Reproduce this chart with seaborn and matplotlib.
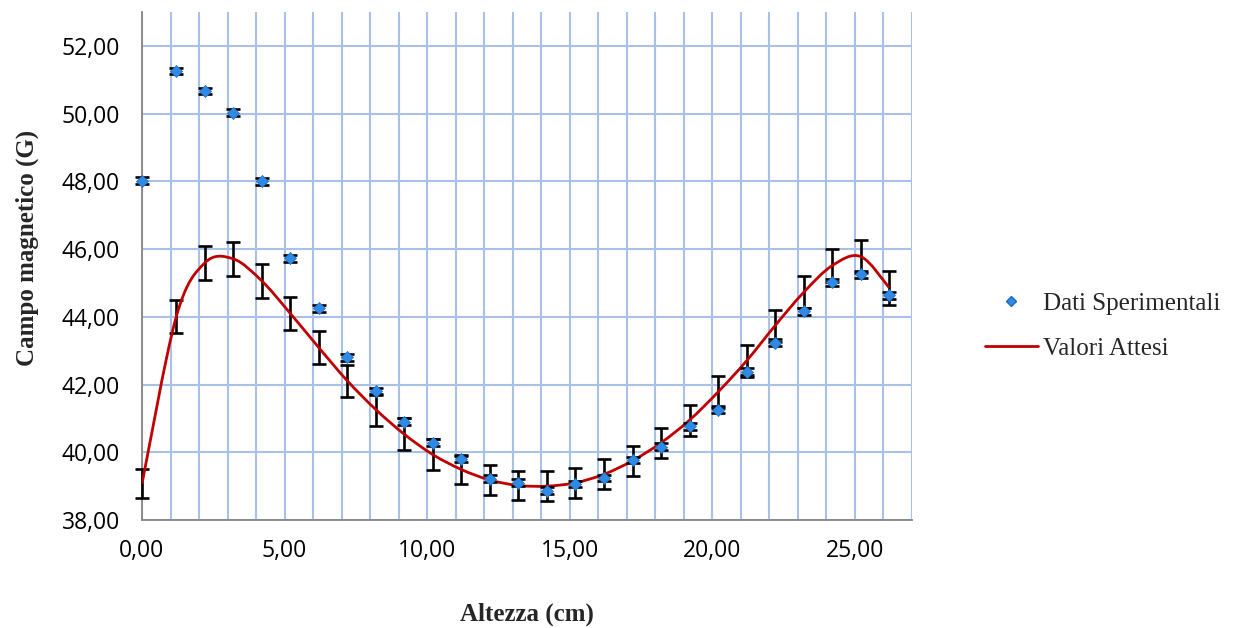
import numpy as np
import matplotlib
matplotlib.use("Agg")
import matplotlib.pyplot as plt
from matplotlib.path import Path
from matplotlib.patches import PathPatch
from matplotlib.lines import Line2D
from matplotlib.ticker import MultipleLocator, FuncFormatter
import pandas as pd
import seaborn as sns

# altezza (cm)
altezza = [0.0, 1.2, 2.2, 3.2, 4.2, 5.2, 6.2, 7.2, 8.2, 9.2, 10.2, 11.2, 12.2, 13.2,
           14.2, 15.2, 16.2, 17.2, 18.2, 19.2, 20.2, 21.2, 22.2, 23.2, 24.2, 25.2, 26.2]

# dati sperimentali (G)
campo_misurato = [48.02, 51.26, 50.67, 50.03, 48.00, 45.73, 44.25, 42.80, 41.80, 40.90,
                  40.28, 39.80, 39.22, 39.10, 38.87, 39.06, 39.24, 39.77, 40.16, 40.77,
                  41.26, 42.38, 43.23, 44.16, 45.02, 45.25, 44.64]
err_misurato = [0.10] * 27

# valori attesi (G)
campo_atteso = [39.07, 44.00, 45.59, 45.71, 45.06, 44.10, 43.09, 42.11, 41.26, 40.53,
                39.93, 39.49, 39.18, 39.02, 39.00, 39.10, 39.35, 39.75, 40.28, 40.95,
                41.78, 42.70, 43.74, 44.72, 45.51, 45.78, 44.86]
err_atteso = [0.43, 0.49, 0.50, 0.50, 0.50, 0.49, 0.49, 0.47, 0.47, 0.47, 0.45, 0.44,
              0.44, 0.44, 0.44, 0.45, 0.44, 0.44, 0.45, 0.46, 0.47, 0.47, 0.47, 0.47,
              0.48, 0.48, 0.50]

BLUE = "#2f8ae5"
RED = "#c00000"
GRID = "#a9c0e8"
AXIS = "#868686"


def smooth_path(x, y):
    # curva "smussata" come nei grafici excel (bezier tipo catmull-rom)
    pts = np.column_stack([x, y])
    n = len(pts)
    verts = [pts[0]]
    codes = [Path.MOVETO]
    for i in range(n - 1):
        p0 = pts[max(i - 1, 0)]
        p1 = pts[i]
        p2 = pts[i + 1]
        p3 = pts[min(i + 2, n - 1)]
        verts += [p1 + (p2 - p0) / 6, p2 - (p3 - p1) / 6, p2]
        codes += [Path.CURVE4] * 3
    return Path(verts, codes)


sns.set_style("white")
plt.rcParams["font.family"] = ["Open Sans", "DejaVu Sans"]

df = pd.DataFrame({"altezza": altezza, "campo": campo_misurato})

fig = plt.figure(figsize=(12.42, 6.28), dpi=100)
ax = fig.add_axes([142 / 1242, 108 / 628, 770 / 1242, 508 / 628])

# barre di errore dei valori attesi
ax.errorbar(altezza, campo_atteso, yerr=err_atteso, fmt="none", ecolor="black",
            elinewidth=1.9, capsize=5, capthick=1.9, zorder=3, clip_on=False)
# curva dei valori attesi
ax.add_patch(PathPatch(smooth_path(altezza, campo_atteso), facecolor="none",
                       edgecolor=RED, lw=2.0, zorder=4))
# dati sperimentali
ax.errorbar(altezza, campo_misurato, yerr=err_misurato, fmt="none", ecolor="black",
            elinewidth=1.5, capsize=5, capthick=1.9, zorder=5, clip_on=False)
sns.scatterplot(data=df, x="altezza", y="campo", marker="D", s=38, color=BLUE,
                edgecolor="#1f6cc0", linewidth=0.5, zorder=6, ax=ax, legend=False,
                clip_on=False)

ax.set_xlim(0, 27)
ax.set_ylim(38, 53)
ax.xaxis.set_major_locator(MultipleLocator(5))
ax.xaxis.set_minor_locator(MultipleLocator(1))
ax.set_yticks(np.arange(38, 53, 2))
fmt = FuncFormatter(lambda v, p: f"{v:.2f}".replace(".", ","))
ax.xaxis.set_major_formatter(fmt)
ax.yaxis.set_major_formatter(fmt)

ax.set_axisbelow(True)
ax.grid(which="major", color=GRID, lw=1.5)
ax.grid(which="minor", axis="x", color=GRID, lw=1.5)

for s in ["top", "right"]:
    ax.spines[s].set_visible(False)
for s in ["left", "bottom"]:
    ax.spines[s].set_color(AXIS)
    ax.spines[s].set_linewidth(1.3)

ax.tick_params(axis="both", which="major", direction="out", length=6, width=1.2,
               color=AXIS, labelsize=16.5, labelcolor="black")
ax.tick_params(axis="x", which="major", pad=8)
ax.tick_params(axis="y", which="major", pad=10)
ax.tick_params(axis="x", which="minor", length=0)

serif_b = {"family": "Liberation Serif", "weight": "bold", "size": 18}
ax.set_xlabel("Altezza (cm)", fontdict=serif_b)
ax.set_ylabel("Campo magnetico (G)", fontdict=serif_b)
ax.xaxis.set_label_coords(0.5, -0.163)
ax.yaxis.set_label_coords(-0.134, 0.535)

handles = [Line2D([], [], marker="D", ls="none", color=BLUE, markeredgecolor="#1f6cc0",
                  markersize=5.5),
           Line2D([], [], color=RED, lw=2.0)]
fig.legend(handles, ["Dati Sperimentali", "Valori Attesi"], loc="center left",
           bbox_to_anchor=(962 / 1242, 1 - 326 / 628), frameon=False,
           prop={"family": "Liberation Serif", "size": 18},
           handlelength=2.15, handletextpad=0.2, labelspacing=0.9)

fig.savefig("out.png", dpi=100)
